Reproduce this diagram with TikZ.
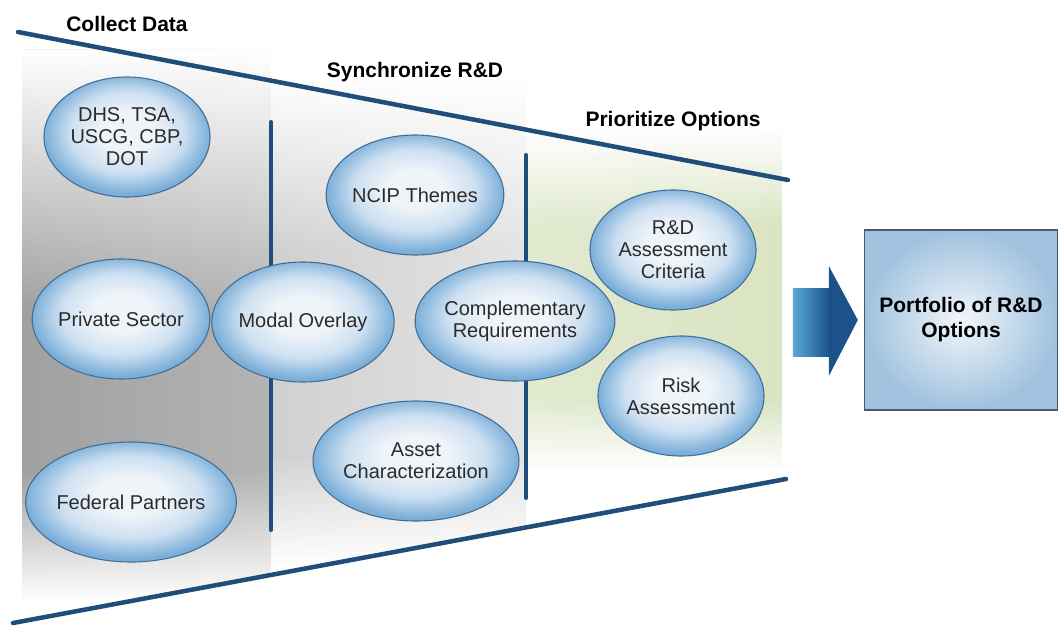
\documentclass[tikz,border=0pt]{standalone}
\usepackage{fontspec}
\setmainfont{Liberation Sans}
\usetikzlibrary{shapes.geometric,fadings,calc}

\definecolor{lineblue}{HTML}{1F4E7A}
\definecolor{ellin}{HTML}{EFF4F9}
\definecolor{ellmid}{HTML}{CDE0F1}
\definecolor{ellout}{HTML}{7BAFD9}
\definecolor{ellborder}{HTML}{416F95}
\definecolor{txt}{HTML}{2B2B2B}
\definecolor{gLeft}{HTML}{A0A0A0}
\definecolor{gLeftR}{HTML}{B4B4B4}
\definecolor{gMidL}{HTML}{D0D0D0}
\definecolor{gMidR}{HTML}{E4E4E4}
\definecolor{grnL}{HTML}{E2EAD0}
\definecolor{grnR}{HTML}{DAE4C2}
\definecolor{boxout}{HTML}{A0C2DF}
\definecolor{boxin}{HTML}{F2F6FA}
\definecolor{boxborder}{HTML}{4B5966}
\definecolor{arrowL}{HTML}{5AAAD6}
\definecolor{arrowR}{HTML}{1C5189}

\pgfdeclareradialshading{ellshade}{\pgfpoint{0bp}{3bp}}{color(0bp)=(ellin); color(8bp)=(ellin); color(17bp)=(ellmid); color(25bp)=(ellout); color(50bp)=(ellout)}

\tikzfading[name=fadetop, top color=transparent!0, bottom color=transparent!100]
\tikzfading[name=fadebot, top color=transparent!100, bottom color=transparent!0]

\tikzset{
  ell/.style={ellipse, draw=ellborder, line width=1.1pt, shade, shading=ellshade,
    minimum width=166pt, minimum height=120pt, inner sep=0pt, align=center,
    font=\fontsize{20}{22}\selectfont, text=txt},
  head/.style={font=\bfseries\fontsize{21}{24}\selectfont, text=black},
  bigline/.style={draw=lineblue, line width=4.5pt, line cap=round},
  divline/.style={draw=lineblue, line width=4pt, line cap=round}
}

\begin{document}
\begin{tikzpicture}[x=1pt,y=1pt]
\useasboundingbox (0,0) rectangle (1059,-626);
\fill[white] (0,0) rectangle (1059,-626);

% background shading
\begin{scope}
  \clip (22,-50) -- (782,-50) -- (782,-480) -- (22,-621) -- cycle;
  \shade[left color=gLeft, right color=gLeftR] (22,-50) rectangle (271,-626);
  \shade[left color=gMidL, right color=gMidR] (271,-50) rectangle (526,-626);
  \shade[left color=grnL, right color=grnR] (526,-50) rectangle (782,-626);
  % left column fades
  \fill[white, path fading=fadetop] (22,-50) rectangle (271,-310);
  \fill[white, path fading=fadebot] (22,-470) rectangle (271,-600);
  \fill[white] (22,-599) rectangle (271,-626);
  % middle column fades
  \fill[white] (271,-50) rectangle (526,-80);
  \fill[white, path fading=fadetop] (271,-79) rectangle (526,-250);
  \fill[white, path fading=fadebot] (271,-455) rectangle (526,-565);
  \fill[white] (271,-564) rectangle (526,-626);
  % green column fades
  \fill[white] (526,-50) rectangle (782,-130);
  \fill[white, path fading=fadetop] (526,-129) rectangle (782,-225);
  \fill[white, path fading=fadebot] (526,-400) rectangle (782,-470);
  \fill[white] (526,-469) rectangle (782,-626);
\end{scope}

% coordinates for lines
\coordinate (t1) at (18,-32);
\coordinate (t2) at (788,-180);
\coordinate (b1) at (13,-623);
\coordinate (b2) at (786,-479);
\coordinate (v1a) at (271,-122);
\coordinate (v1b) at (271,-530);
\coordinate (v2a) at (526,-155);
\coordinate (v2b) at (526,-498);

\draw[divline] (v1a) -- (v1b);
\draw[divline] (v2a) -- (v2b);
\draw[bigline] (t1) -- (t2);
\draw[bigline] (b1) -- (b2);

% ellipses
\node[ell] (dhs) at (127,-137) {DHS, TSA,\\USCG, CBP,\\DOT};
\node[ell] (priv) at (121,-319) {Private Sector};
\node[ell] (fed) at (131,-502) {Federal Partners};
\node[ell] (modal) at (303,-322) {Modal Overlay};
\node[ell] (ncip) at (415,-195) {NCIP Themes};
\node[ell] (comp) at (515,-321) {Complementary\\Requirements};
\node[ell] (asset) at (416,-461) {Asset\\Characterization};
\node[ell] (rdac) at (673,-250) {R\&D\\Assessment\\Criteria};
\node[ell] (risk) at (681,-396) {Risk\\Assessment};

% headings
\node[head] (collect) at (127,-24) {Collect Data};
\node[head] (sync) at (415,-72) {Synchronize R\&D};
\node[head] (prio) at (673,-121) {Prioritize Options};

% portfolio box
\node[rectangle, draw=boxborder, line width=1.4pt, inner color=boxin, outer color=boxout,
  minimum width=193pt, minimum height=180pt, inner sep=0pt, align=center,
  font=\bfseries\fontsize{21}{25}\selectfont, text=black] (box) at (961,-320)
  {Portfolio of R\&D\\Options};

% block arrow
\coordinate (tip) at ([xshift=-6pt]box.west);
\shade[left color=arrowL, right color=arrowR]
  ($(tip)+(-65,32)$) rectangle ($(tip)+(-28,-36)$);
\fill[arrowR] (tip) -- ($(tip)+(-29,54)$) -- ($(tip)+(-29,-56)$) -- cycle;
\end{tikzpicture}
\end{document}
